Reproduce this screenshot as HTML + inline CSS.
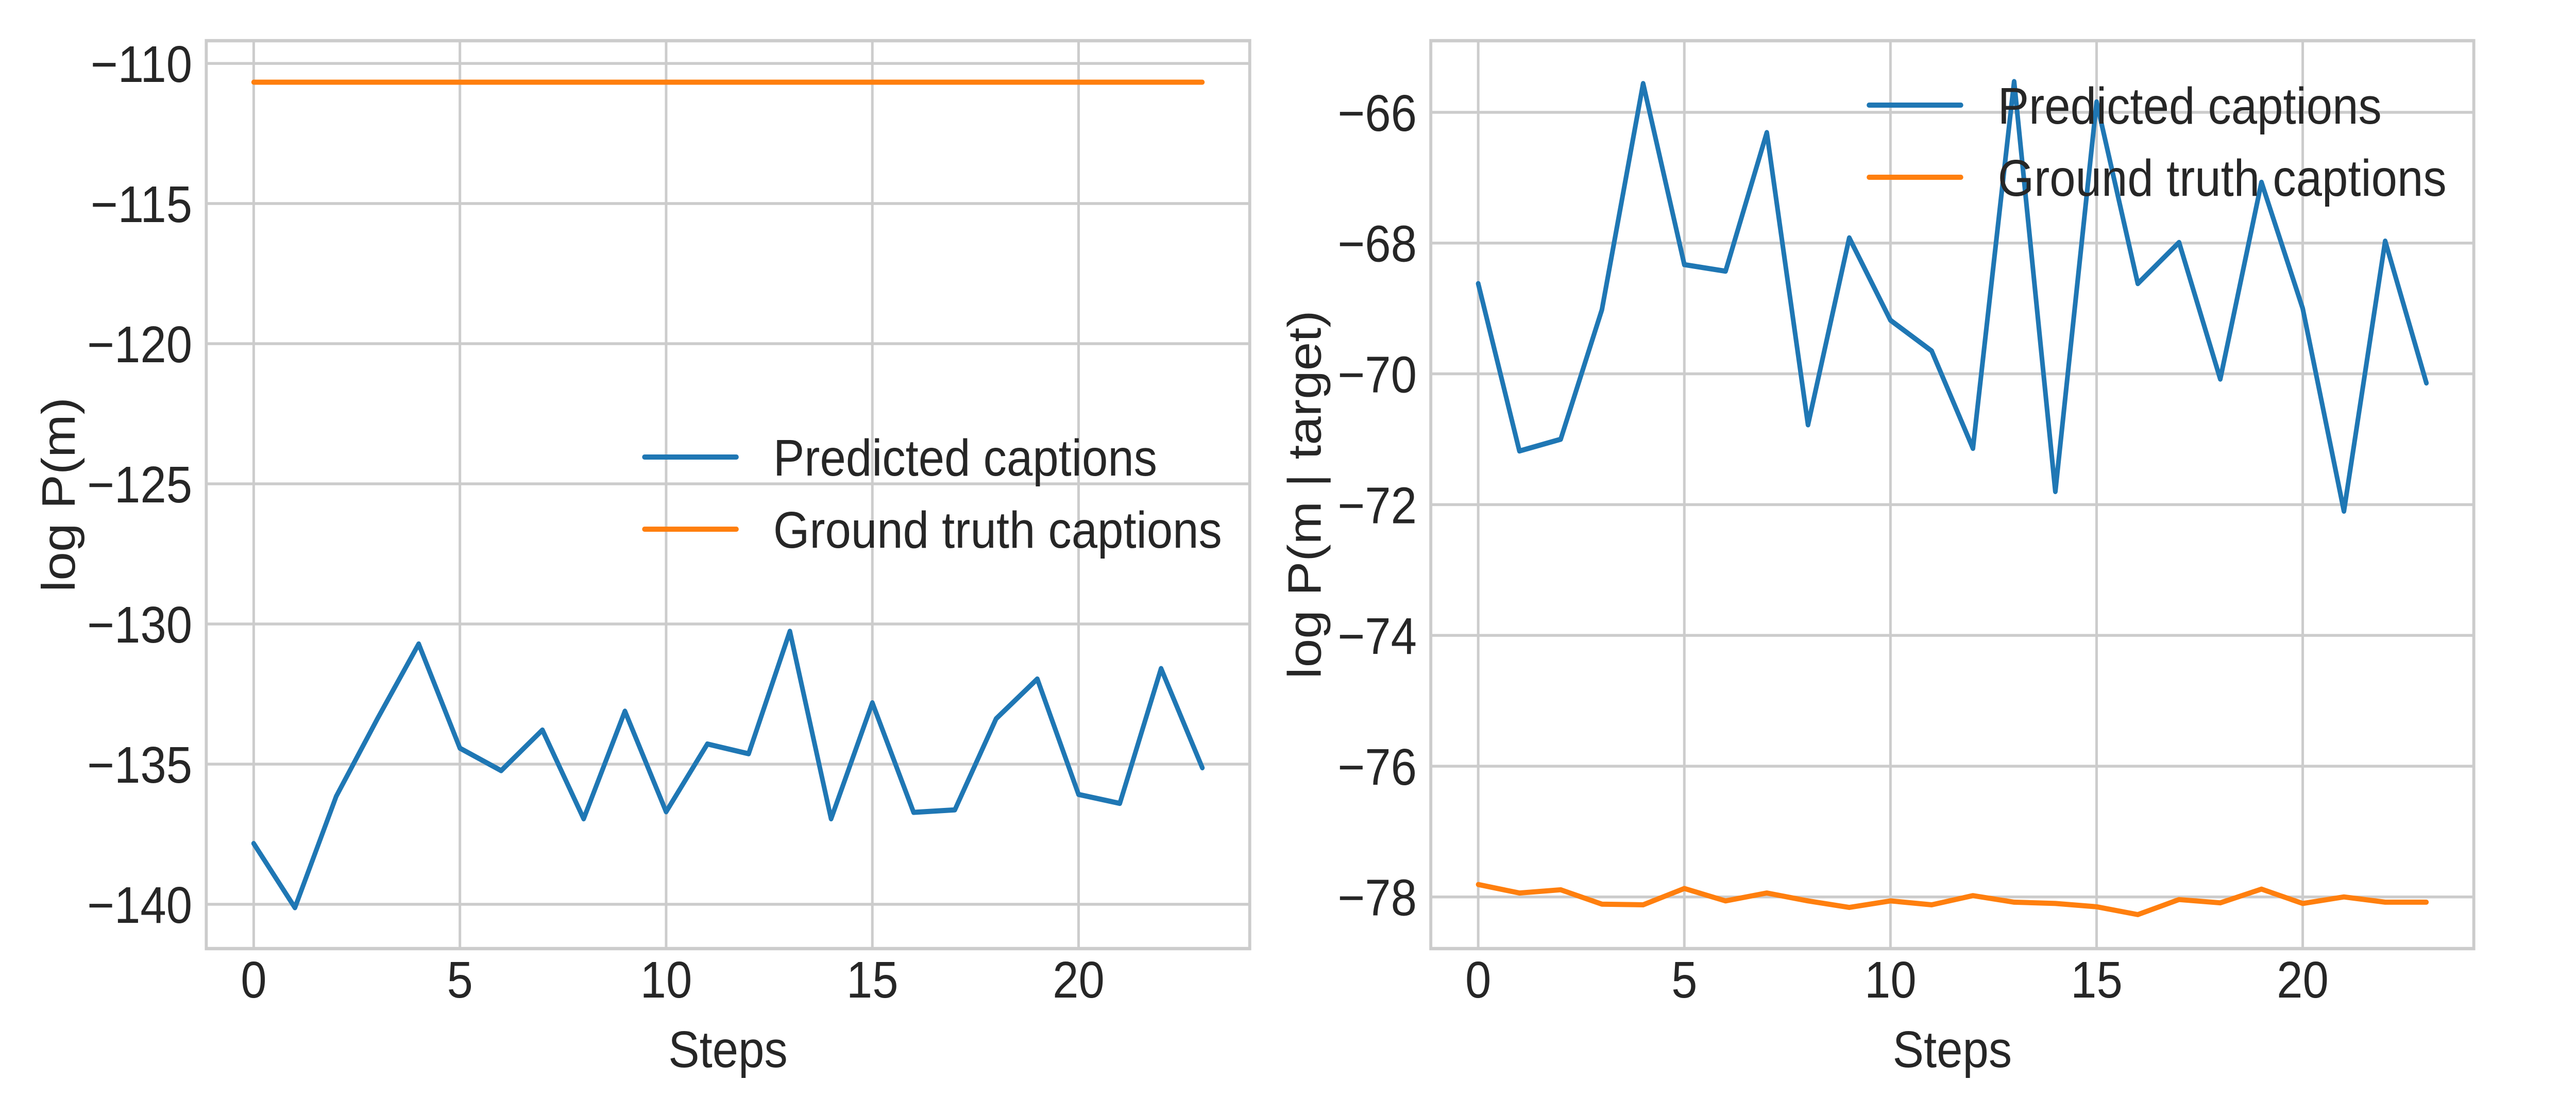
<!DOCTYPE html>
<html><head><meta charset="utf-8"><style>
html,body{margin:0;padding:0;background:#fff;overflow:hidden;width:100%;height:100%;}
svg{display:block;position:fixed;left:0;top:0;width:100vw;height:100vh;}
text{font-family:"Liberation Sans",Arial,sans-serif;fill:#262626;}
</style></head><body>
<svg id="chart" xmlns="http://www.w3.org/2000/svg" viewBox="0 0 5520 2129" preserveAspectRatio="none"></svg>
<script>
const steps = [0,1,2,3,4,5,6,7,8,9,10,11,12,13,14,15,16,17,18,19,20,21,22,23];
const leftPredicted = [-137.83,-140.12,-136.15,-133.38,-130.71,-134.43,-135.23,-133.78,-136.95,-133.11,-136.70,-134.28,-134.63,-130.26,-136.95,-132.81,-136.72,-136.63,-133.38,-131.96,-136.08,-136.40,-131.59,-135.13];
const leftGround = [-110.67,-110.67,-110.67,-110.67,-110.67,-110.67,-110.67,-110.67,-110.67,-110.67,-110.67,-110.67,-110.67,-110.67,-110.67,-110.67,-110.67,-110.67,-110.67,-110.67,-110.67,-110.67,-110.67,-110.67];
const rightPredicted = [-68.62,-71.18,-71.00,-69.02,-65.56,-68.33,-68.43,-66.31,-70.78,-67.92,-69.18,-69.65,-71.14,-65.53,-71.80,-65.84,-68.62,-67.99,-70.08,-67.07,-69.00,-72.10,-67.97,-70.14];
const rightGround = [-77.81,-77.94,-77.89,-78.11,-78.12,-77.87,-78.06,-77.94,-78.06,-78.16,-78.06,-78.12,-77.98,-78.08,-78.10,-78.15,-78.27,-78.04,-78.09,-77.88,-78.10,-78.00,-78.08,-78.08];
const xTicks = [0,5,10,15,20];
const leftYTicks = [-110,-115,-120,-125,-130,-135,-140];
const rightYTicks = [-66,-68,-70,-72,-74,-76,-78];
const legendLabels = ["Predicted captions","Ground truth captions"];

const NS = "http://www.w3.org/2000/svg";
const svg = document.getElementById('chart');
function mk(tag, attrs, parent){
  const e = document.createElementNS(NS, tag);
  for (const k in attrs) e.setAttribute(k, attrs[k]);
  (parent||svg).appendChild(e);
  return e;
}

function panel(cfg){
  const g = mk('g', {});
  
  
  const X = v => cfg.x0 + (v - cfg.xmin) / (cfg.xmax - cfg.xmin) * (cfg.x1 - cfg.x0);
  const Y = v => cfg.y1 - (v - cfg.ymin) / (cfg.ymax - cfg.ymin) * (cfg.y1 - cfg.y0);
  xTicks.forEach(t => {
    const l = mk('line', {x1:X(t), x2:X(t), y1:cfg.y0, y2:cfg.y1, stroke:'#cccccc', 'stroke-width':5.5}, g);
    
    
    const tx = mk('text', {x:X(t), y:cfg.y1+95, 'font-size':100, 'text-anchor':'middle'}, g);
    
    
    tx.textContent = String(t);
  });
  cfg.yTicks.forEach(t => {
    const l = mk('line', {x1:cfg.x0, x2:cfg.x1, y1:Y(t), y2:Y(t), stroke:'#cccccc', 'stroke-width':5.5}, g);
    
    
    const tx = mk('text', {x:cfg.x0-30, y:Y(t)+36, 'font-size':100, 'text-anchor':'end'}, g);
    
    
    tx.textContent = '\u2212' + String(Math.abs(t));
  });
  const fr = mk('rect', {x:cfg.x0, y:cfg.y0, width:cfg.x1-cfg.x0, height:cfg.y1-cfg.y0, fill:'none', stroke:'#cccccc', 'stroke-width':6.5}, g);
  
  
  const series = [[cfg.pred, '#1f77b4', 'predicted-line'], [cfg.gt, '#ff7f0e', 'ground-truth-line']];
  series.forEach(s => {
    const pts = steps.map((x,i) => X(x).toFixed(1) + ',' + Y(s[0][i]).toFixed(1)).join(' ');
    const p = mk('polyline', {points:pts, fill:'none', stroke:s[1], 'stroke-width':10, 'stroke-linecap':'round', 'stroke-linejoin':'round'}, g);
    
    
  });
  const xl = mk('text', {x:(cfg.x0+cfg.x1)/2, y:cfg.y1+230, 'font-size':100, 'text-anchor':'middle'}, g);
  
  
  xl.textContent = 'Steps';
  const yl = mk('text', {x:0, y:0, 'font-size':100, 'text-anchor':'middle', transform:`translate(${cfg.ylx},${(cfg.y0+cfg.y1)/2}) rotate(-90)`}, g);
  
  
  yl.textContent = cfg.ylabel;
  const cols = ['#1f77b4', '#ff7f0e'];
  legendLabels.forEach((lab, i) => {
    const ly = cfg.legY + i*140;
    const lg = mk('g', {}, g);
    
    
    mk('line', {x1:cfg.legX, x2:cfg.legX+197, y1:ly, y2:ly, stroke:cols[i], 'stroke-width':10, 'stroke-linecap':'round'}, lg);
    const t = mk('text', {x:cfg.legX+276, y:ly+36, 'font-size':100}, lg);
    t.textContent = lab;
  });
}

panel({name:'left-panel', x0:442, x1:2678, y0:79, y1:1841, xmin:-1.15, xmax:24.15, ymin:-141.58, ymax:-109.19,
  yTicks:leftYTicks, pred:leftPredicted, gt:leftGround, ylabel:'log P(m)', ylx:160, legX:1381, legY:887});
panel({name:'right-panel', x0:3066, x1:5301, y0:79, y1:1841, xmin:-1.15, xmax:24.15, ymin:-78.79, ymax:-64.905,
  yTicks:rightYTicks, pred:rightPredicted, gt:rightGround, ylabel:'log P(m | target)', ylx:2830, legX:4005, legY:204});
</script>
</body></html>
